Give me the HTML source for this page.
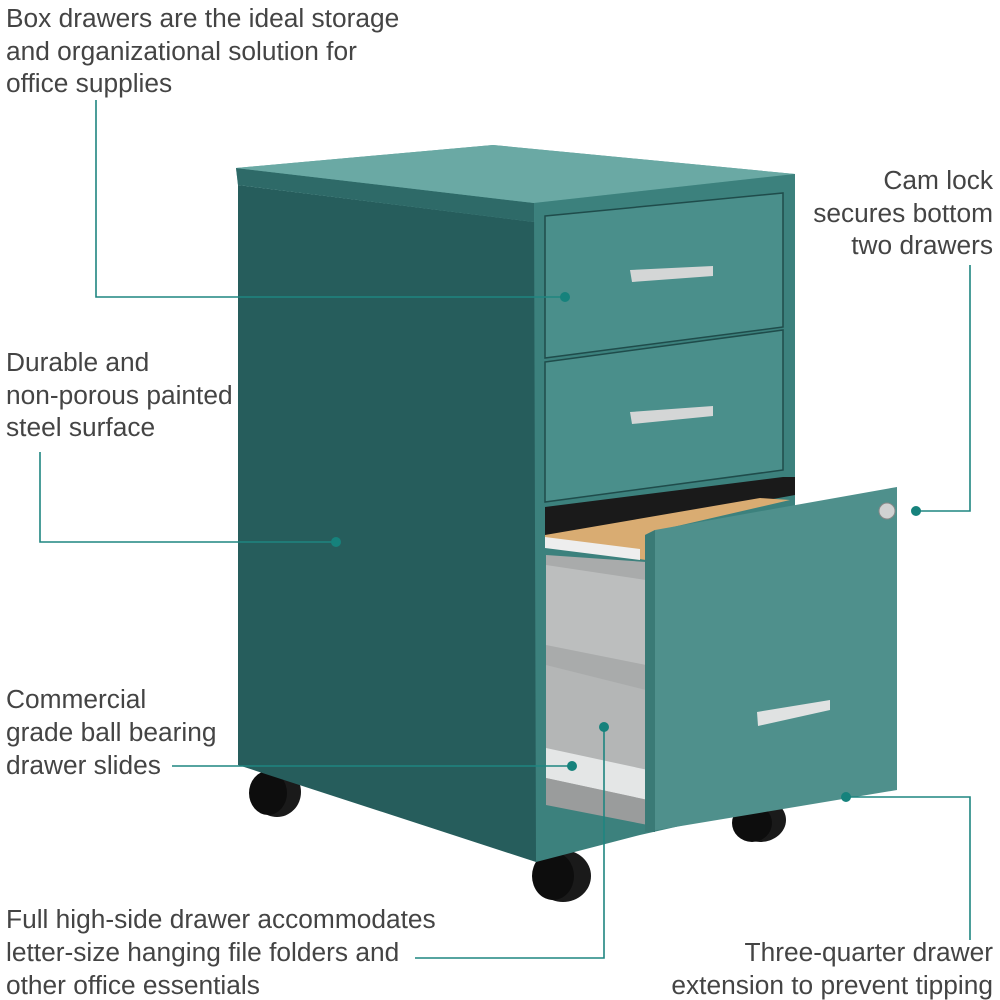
<!DOCTYPE html>
<html><head><meta charset="utf-8"><style>
html,body{margin:0;padding:0;background:#fff;}
svg{display:block}
text{font-family:"Liberation Sans",sans-serif;font-size:26.3px;fill:#444}
</style></head><body>
<svg width="1000" height="1000" viewBox="0 0 1000 1000" xmlns="http://www.w3.org/2000/svg">
<g fill="#1a1a1a">
<ellipse cx="277" cy="792" rx="24" ry="25"/><ellipse cx="268" cy="793" rx="19" ry="22" fill="#0d0d0d"/>
<ellipse cx="760" cy="820" rx="26" ry="22"/><ellipse cx="752" cy="823" rx="20" ry="19" fill="#0d0d0d"/>
<ellipse cx="563" cy="876" rx="28" ry="26"/><ellipse cx="553" cy="876" rx="21" ry="24" fill="#0d0d0d"/>
</g>
<polygon points="238,185 536,222 536,862 238,765" fill="#265d5c"/>
<polygon points="236,168 493,145 795,174 795,193 534,222 238,185" fill="#5c9f9a"/>
<polygon points="236,168 534,203 534,222 238,185" fill="#2e6a68"/>
<polygon points="236,168 493,145 795,174 534,203" fill="#6aa9a4"/>
<polygon points="534,203 795,174 795,800 640,835 536,862" fill="#3c817d"/>
<polygon points="545,216 783,193 783,327 545,358" fill="#4a8f8b" stroke="#1f4c4b" stroke-width="1.5"/>
<path d="M630,270 L713,266 L713,276 L632,282 Z" fill="#d4d6d6"/>
<polygon points="545,362 783,330 783,470 545,502" fill="#4a8f8b" stroke="#1f4c4b" stroke-width="1.5"/>
<path d="M630,412 L713,406 L713,416 L632,424 Z" fill="#d4d6d6"/>
<polygon points="545,507 783,477 795,477 795,495 545,540" fill="#1a1a1a"/>
<polygon points="545,535 760,498 790,500 660,530 646,560 545,545" fill="#d9ac72"/>
<polygon points="545,537 640,549 640,560 545,548" fill="#eee"/>
<polygon points="546,555 646,562 646,820 546,800" fill="#a9abab"/>
<polygon points="546,565 646,580 646,665 546,645" fill="#bcbebe"/>
<polygon points="546,665 646,690 646,800 546,770" fill="#b4b6b6"/>
<polygon points="546,748 648,770 648,800 546,778" fill="#e4e6e6"/>
<polygon points="546,778 648,800 648,825 546,805" fill="#9a9c9c"/>
<polygon points="655,530 897,487 897,790 645,832 645,535" fill="#4f908c"/>
<polygon points="645,535 655,530 655,832 645,832" fill="#3a7a76"/>
<path d="M757,712 L830,700 L830,710 L758,726 Z" fill="#e0e2e2"/>
<circle cx="887" cy="511" r="8" fill="#d0d2d2" stroke="#888" stroke-width="1"/>
<g stroke="#1f8580" stroke-width="1.6" fill="none">
<polyline points="96,100 96,297 565,297"/>
<polyline points="40,452 40,542 336,542"/>
<polyline points="970,265 970,511 916,511"/>
<polyline points="172,766 572,766"/>
<polyline points="415,958 604,958 604,727"/>
<polyline points="970,940 970,797 846,797"/>
</g>
<g fill="#16827c">
<circle cx="565" cy="297" r="5"/><circle cx="336" cy="542" r="5"/><circle cx="916" cy="511" r="5"/>
<circle cx="572" cy="766" r="5"/><circle cx="604" cy="727" r="5"/><circle cx="846" cy="797" r="5"/>
</g>
<text x="6" y="27">Box drawers are the ideal storage</text>
<text x="6" y="60">and organizational solution for</text>
<text x="6" y="92">office supplies</text>
<text x="6" y="371">Durable and</text>
<text x="6" y="404">non-porous painted</text>
<text x="6" y="436">steel surface</text>
<text x="6" y="708">Commercial</text>
<text x="6" y="741">grade ball bearing</text>
<text x="6" y="774">drawer slides</text>
<text x="6" y="928">Full high-side drawer accommodates</text>
<text x="6" y="961">letter-size hanging file folders and</text>
<text x="6" y="994">other office essentials</text>
<g text-anchor="end">
<text x="993" y="189">Cam lock</text>
<text x="993" y="222">secures bottom</text>
<text x="993" y="254">two drawers</text>
<text x="993" y="961">Three-quarter drawer</text>
<text x="993" y="994">extension to prevent tipping</text>
</g>
</svg>
</body></html>
